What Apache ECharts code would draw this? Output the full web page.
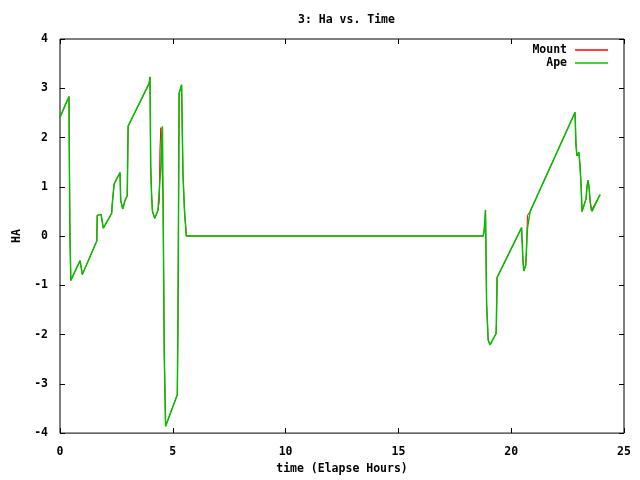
<!DOCTYPE html>
<html>
<head>
<meta charset="utf-8">
<script src="https://cdn.jsdelivr.net/npm/echarts@6/dist/echarts.min.js"></script>
<style>
  html, body { margin: 0; padding: 0; background: #fff; }
  #main { width: 640px; height: 480px; }
</style>
</head>
<body>
<div id="main"></div>
<script>
// elapsed hours and HA values
var apeTime = [0, 0.4, 0.41, 0.44, 0.48, 0.89, 0.99, 1.63, 1.65, 1.82, 1.92, 2.29, 2.31, 2.4, 2.66, 2.69, 2.78, 2.88, 2.98, 3.02,
  3.96, 3.99, 4.02, 4.06, 4.1, 4.2, 4.34, 4.37, 4.47, 4.5, 4.54, 4.57, 4.62, 4.68, 5.2, 5.23, 5.28, 5.39, 5.45, 5.52, 5.6,
  18.76, 18.8, 18.84, 18.86, 18.91, 18.98, 19.06, 19.33, 19.38, 20.46, 20.52, 20.56, 20.64, 20.72, 20.84,
  22.83, 22.87, 22.91, 23.0, 23.05, 23.1, 23.14, 23.32, 23.36, 23.4, 23.45, 23.5, 23.58, 23.94];
var apeHa = [2.41, 2.83, 1.9, 0.02, -0.9, -0.5, -0.78, -0.1, 0.42, 0.44, 0.16, 0.46, 0.62, 1.06, 1.29, 0.73, 0.55, 0.72, 0.82, 2.23,
  3.11, 3.23, 1.43, 0.83, 0.5, 0.36, 0.52, 0.72, 1.4, 1.96, 2.23, 0.7, -2.35, -3.86, -3.22, -1.65, 2.9, 3.07, 1.27, 0.5, 0,
  0, 0.1, 0.35, 0.53, -1.38, -2.11, -2.21, -1.98, -0.84, 0.17, -0.48, -0.71, -0.6, 0.16, 0.5,
  2.51, 1.87, 1.63, 1.7, 1.43, 1.0, 0.5, 0.76, 1.0, 1.13, 1.0, 0.7, 0.5, 0.84];

var mountTime = [0, 0.28, 0.4, 0.41, 0.44, 0.48, 0.89, 0.99, 1.63, 1.65, 1.82, 1.92, 2.29, 2.31, 2.4, 2.66, 2.69, 2.78, 2.88, 2.98, 3.02,
  3.94, 3.99, 4.02, 4.06, 4.1, 4.2, 4.34, 4.4, 4.43, 4.47, 4.54, 4.57, 4.62, 4.68, 5.2, 5.23, 5.28, 5.39, 5.45, 5.52, 5.6,
  18.76, 18.8, 18.84, 18.86, 18.91, 18.98, 19.06, 19.33, 19.35, 19.37, 20.46, 20.52, 20.56, 20.64, 20.67, 20.72, 20.84,
  22.83, 22.87, 22.91, 23.0, 23.05, 23.1, 23.14, 23.32, 23.36, 23.4, 23.45, 23.5, 23.55, 23.62, 23.94];
var mountHa = [2.41, 2.72, 2.83, 1.9, 0.02, -0.9, -0.5, -0.78, -0.1, 0.42, 0.44, 0.16, 0.46, 0.62, 1.06, 1.29, 0.73, 0.55, 0.72, 0.82, 2.23,
  3.08, 3.23, 1.43, 0.83, 0.5, 0.36, 0.52, 0.7, 1.75, 2.2, 2.23, 0.7, -2.35, -3.86, -3.22, -1.65, 2.9, 3.07, 1.27, 0.5, 0,
  0, 0.1, 0.35, 0.53, -1.38, -2.11, -2.21, -1.98, -1.75, -0.84, 0.17, -0.48, -0.71, -0.6, -0.45, 0.42, 0.5,
  2.51, 1.87, 1.63, 1.7, 1.43, 1.0, 0.5, 0.76, 1.0, 1.13, 1.0, 0.7, 0.52, 0.56, 0.84];

var xTicks = [0, 5, 10, 15, 20, 25];
var yTicks = [-4, -3, -2, -1, 0, 1, 2, 3, 4];

function pairs(t, v) {
  var out = [];
  for (var i = 0; i < t.length; i++) out.push([t[i], v[i]]);
  return out;
}

var font = 'DejaVu Sans Mono';
var txt = { fontFamily: font, fontSize: 11.5, fontWeight: 'bold', color: '#000' };
var tick = { show: true, inside: true, length: 5, lineStyle: { color: '#000', width: 1 } };
var noLine = { show: false, onZero: false };

var chart = echarts.init(document.getElementById('main'), null, { renderer: 'canvas' });
chart.setOption({
  animation: false,
  backgroundColor: '#fff',
  title: {
    text: '3: Ha vs. Time',
    left: 293, top: 9,
    textStyle: { fontFamily: font, fontSize: 11.5, fontWeight: 'bold', color: '#000' }
  },
  legend: [
    { data: ['Mount'], right: 27, top: 39, align: 'right', icon: 'rect', itemWidth: 33, itemHeight: 1.5, itemGap: 0,
      textStyle: Object.assign({ padding: [0, 3, 0, 0] }, txt) },
    { data: ['Ape'], right: 27, top: 52, align: 'right', icon: 'rect', itemWidth: 33, itemHeight: 1.5, itemGap: 0,
      textStyle: Object.assign({ padding: [0, 3, 0, 0] }, txt) }
  ],
  grid: { left: 60, right: 16, top: 39, bottom: 43, show: true, borderColor: '#000', borderWidth: 1, backgroundColor: 'transparent' },
  xAxis: [
    { type: 'value', min: xTicks[0], max: xTicks[xTicks.length - 1], interval: 5,
      name: 'time (Elapse Hours)', nameLocation: 'middle', nameGap: 29, nameTextStyle: txt,
      axisLine: noLine, axisTick: tick, splitLine: { show: false },
      axisLabel: Object.assign({ margin: 13 }, txt) },
    { type: 'value', position: 'top', min: xTicks[0], max: xTicks[xTicks.length - 1], interval: 5,
      axisLine: noLine, axisTick: tick, splitLine: { show: false }, axisLabel: { show: false } }
  ],
  yAxis: [
    { type: 'value', position: 'left', min: yTicks[0], max: yTicks[yTicks.length - 1], interval: 1,
      name: 'HA', nameLocation: 'middle', nameGap: 23, nameRotate: 90, nameTextStyle: txt,
      axisLine: noLine, axisTick: tick, splitLine: { show: false },
      axisLabel: Object.assign({ margin: 12 }, txt) },
    { type: 'value', position: 'right', min: yTicks[0], max: yTicks[yTicks.length - 1], interval: 1,
      axisLine: noLine, axisTick: tick, splitLine: { show: false }, axisLabel: { show: false } }
  ],
  series: [
    { name: 'Mount', type: 'line', data: pairs(mountTime, mountHa), showSymbol: false, symbol: 'none',
      color: '#ff0000', lineStyle: { color: '#ff0000', width: 1 } },
    { name: 'Ape', type: 'line', data: pairs(apeTime, apeHa), showSymbol: false, symbol: 'none',
      color: '#00c000', lineStyle: { color: '#00c000', width: 1.5 } }
  ]
});
</script>
</body>
</html>
